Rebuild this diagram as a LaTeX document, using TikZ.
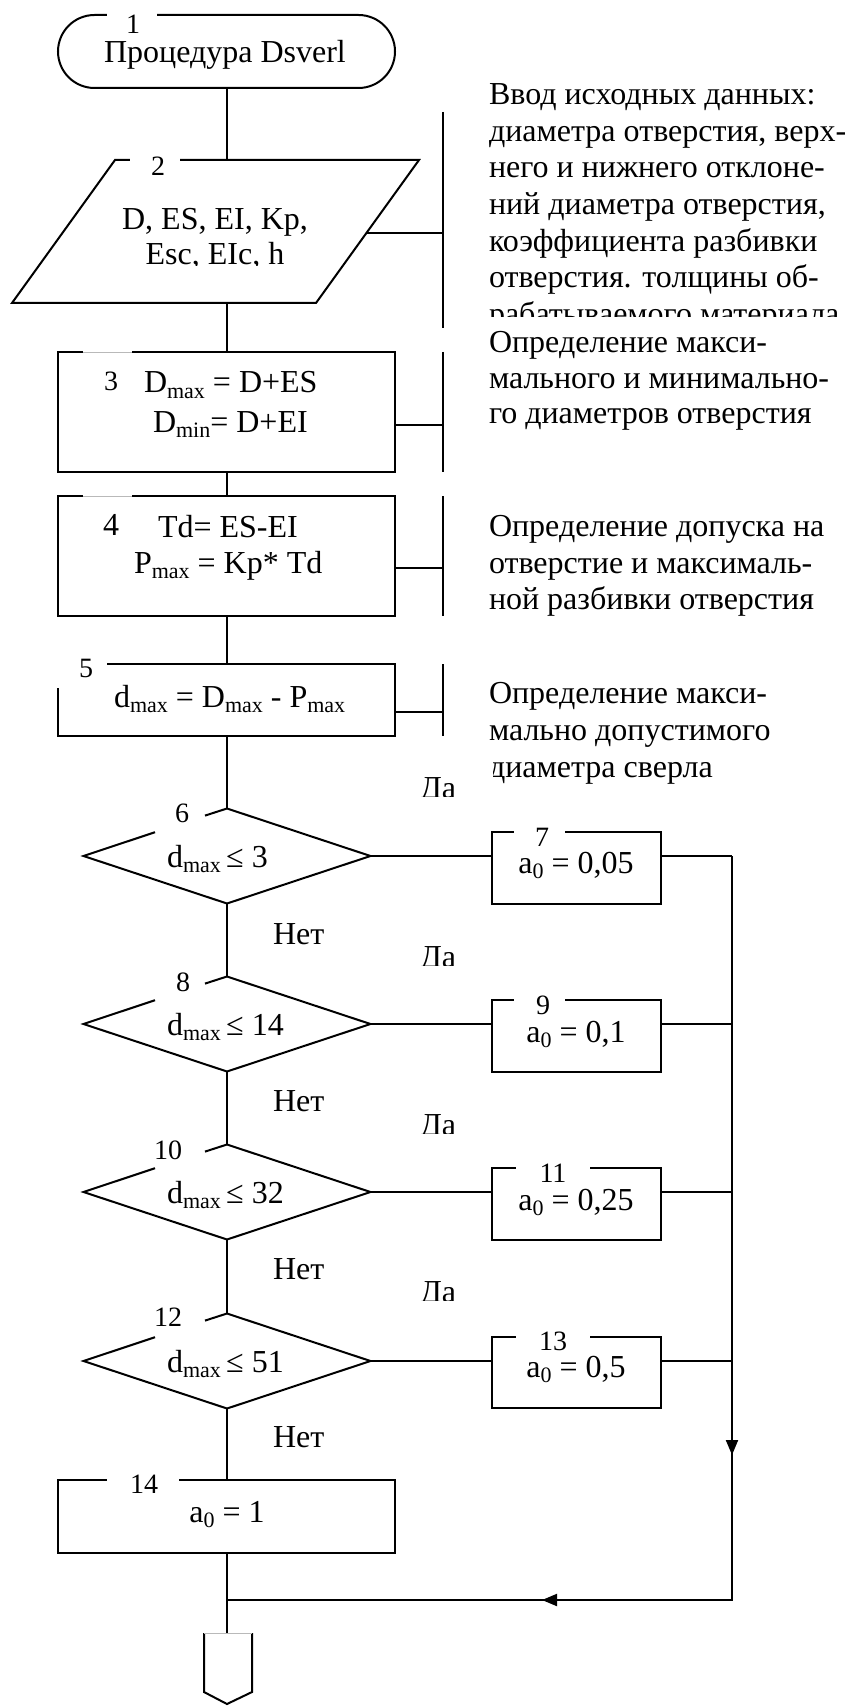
\documentclass[tikz,border=0pt]{standalone}
\usepackage{fontspec}
\setmainfont{Liberation Serif}
\usetikzlibrary{arrows.meta}
\newcommand{\lo}[1]{\raisebox{-0.18em}{\fontsize{11}{11}\selectfont #1}}
\begin{document}
\begin{tikzpicture}[x=0.5pt,y=-0.5pt,line width=1pt,line join=miter,
  txt/.style={inner sep=0pt,font=\fontsize{16}{18}\selectfont},
  lbl/.style={inner sep=0pt,font=\fontsize{14}{14}\selectfont},
  gapline/.style={white,line width=2.2pt},
  faint/.style={gray!55,line width=0.4pt},
  tip/.style={-{Triangle[length=7.5pt,width=6pt]}}]
\fill[white] (0,0) rectangle (849,1706);
\useasboundingbox (0,0) rectangle (849,1706);

% ---------- block 1: terminator
\draw[rounded corners=18.25pt] (58,15) rectangle (395,88);
\draw[gapline] (107,15) -- (157,15);
\node[lbl] (n1) at (133,24) {1};
\node[txt,anchor=base] (t1) at (225,63) {Процедура Dsverl};
\coordinate (t1b) at (227,88);

% ---------- block 2: parallelogram
\coordinate (p2tl) at (115,160);
\coordinate (p2tr) at (419,160);
\coordinate (p2br) at (316,303);
\coordinate (p2bl) at (12,303);
\coordinate (p2t) at (227,160);
\coordinate (p2b) at (227,303);
\coordinate (p2r) at (366.4,233);
\draw (p2tl) -- (p2tr) -- (p2br) -- (p2bl) -- cycle;
\draw[gapline] (130,160) -- (180,160);
\node[lbl] (n2) at (158,166) {2};
\node[txt,anchor=base] (t2a) at (215,230) {D, ES, EI, Kp,};
\begin{scope}
\clip (0,240) rectangle (400,265.6);
\node[txt,anchor=base] (t2b) at (215,265) {Esc, EIc, h};
\end{scope}

% ---------- block 3
\coordinate (b3t) at (227,352);
\coordinate (b3b) at (227,472);
\coordinate (b3r) at (395,425);
\draw (58,352) rectangle (395,472);
\draw[gapline,line width=1.2pt] (83,352) -- (132,352);
\draw[faint] (83,352) -- (132,352);
\node[lbl,anchor=base west] (n3) at (103,390) {3};
\node[txt,anchor=base west] (t3a) at (143,393) {D\lo{max} = D+ES};
\node[txt,anchor=base west] (t3b) at (152,432) {D\lo{min}= D+EI};

% ---------- block 4
\coordinate (b4t) at (227,496);
\coordinate (b4b) at (227,616);
\coordinate (b4r) at (395,568);
\draw (58,496) rectangle (395,616);
\draw[gapline,line width=1.2pt] (83,496) -- (132,496);
\draw[faint] (83,496) -- (132,496);
\node[txt,anchor=base west] (n4) at (102,535) {4};
\node[txt,anchor=base west] (t4a) at (157,537) {Td= ES-EI};
\node[txt,anchor=base west] (t4b) at (133,573) {P\lo{max} = Kp* Td};

% ---------- block 5
\coordinate (b5t) at (227,664);
\coordinate (b5b) at (227,736);
\coordinate (b5r) at (395,712);
\draw (58,688) -- (58,736) -- (395,736) -- (395,664) -- (107,664);
\node[lbl] (n5) at (86,668) {5};
\node[txt,anchor=base west] (t5) at (113,707) {d\lo{max} = D\lo{max} - P\lo{max}};

% ---------- main line, upper part
\draw (t1b) -- (p2t);
\draw (p2b) -- (b3t);
\draw (b3b) -- (b4t);
\draw (b4b) -- (b5t);

% ---------- comment brackets
\coordinate (k1t) at (443,112); \coordinate (k1b) at (443,328); \coordinate (k1m) at (443,233);
\coordinate (k2t) at (443,352); \coordinate (k2b) at (443,472); \coordinate (k2m) at (443,425);
\coordinate (k3t) at (443,496); \coordinate (k3b) at (443,616); \coordinate (k3m) at (443,568);
\coordinate (k4t) at (443,664); \coordinate (k4b) at (443,736); \coordinate (k4m) at (443,712);
\draw (k1t) -- (k1b); \draw (p2r) -- (k1m);
\draw (k2t) -- (k2b); \draw (b3r) -- (k2m);
\draw (k3t) -- (k3b); \draw (b4r) -- (k3m);
\draw (k4t) -- (k4b); \draw (b5r) -- (k4m);

% ---------- comment texts
\node[txt,anchor=base west] (c1a) at (488,105) {Ввод исходных данных:};
\node[txt,anchor=base west] (c1b) at (488,142) {диаметра отверстия, верх-};
\node[txt,anchor=base west] (c1c) at (488,178) {него и нижнего отклоне-};
\node[txt,anchor=base west] (c1d) at (488,215) {ний диаметра отверстия,};
\node[txt,anchor=base west] (c1e) at (488,252) {коэффициента разбивки};
\node[txt,anchor=base west] (c1f) at (488,288) {отверстия. толщины  об-};
\begin{scope}
\clip (470,295) rectangle (849,317);
\node[txt,anchor=base west] (c1g) at (488,325) {рабатываемого материала};
\end{scope}
\node[txt,anchor=base west] (c2a) at (488,352) {Определение макси-};
\node[txt,anchor=base west] (c2b) at (488,388) {мального и минимально-};
\node[txt,anchor=base west] (c2c) at (488,423) {го диаметров отверстия};
\node[txt,anchor=base west] (c3a) at (488,536) {Определение допуска на};
\node[txt,anchor=base west] (c3b) at (488,573) {отверстие и максималь-};
\node[txt,anchor=base west] (c3c) at (488,609) {ной разбивки отверстия};
\node[txt,anchor=base west] (c4a) at (488,703) {Определение макси-};
\node[txt,anchor=base west] (c4b) at (488,740) {мально допустимого};
\begin{scope}
\clip (493,750) rectangle (849,790);
\node[txt,anchor=base west] (c4c) at (488,777) {диаметра сверла};
\end{scope}

% ---------- decisions
% 6
\coordinate (d6t) at (227,808.5); \coordinate (d6r) at (370.5,856);
\coordinate (d6b) at (227,903.5); \coordinate (d6l) at (83.5,856);
\draw (205,815.6) -- (d6t) -- (d6r) -- (d6b) -- (d6l) -- (155,832.2);
\node[lbl] (n6) at (182,813) {6};
\node[txt,anchor=base west] (t6) at (166,867) {d\lo{max}\,≤ 3};
% 8
\coordinate (d8t) at (227,976.5); \coordinate (d8r) at (370.5,1024);
\coordinate (d8b) at (227,1071.5); \coordinate (d8l) at (83.5,1024);
\draw (205,983.6) -- (d8t) -- (d8r) -- (d8b) -- (d8l) -- (155,1000.2);
\node[lbl] (n8) at (183,982) {8};
\node[txt,anchor=base west] (t8) at (166,1035) {d\lo{max}\,≤ 14};
% 10
\coordinate (d10t) at (227,1144.5); \coordinate (d10r) at (370.5,1192);
\coordinate (d10b) at (227,1239.5); \coordinate (d10l) at (83.5,1192);
\draw (205,1151.6) -- (d10t) -- (d10r) -- (d10b) -- (d10l) -- (155,1168.2);
\node[lbl] (n10) at (168,1150) {10};
\node[txt,anchor=base west] (t10) at (166,1203) {d\lo{max}\,≤ 32};
% 12
\coordinate (d12t) at (227,1313.5); \coordinate (d12r) at (370.5,1361);
\coordinate (d12b) at (227,1408.5); \coordinate (d12l) at (83.5,1361);
\draw (205,1320.6) -- (d12t) -- (d12r) -- (d12b) -- (d12l) -- (155,1337.2);
\node[lbl] (n12) at (168,1317) {12};
\node[txt,anchor=base west] (t12) at (166,1372) {d\lo{max}\,≤ 51};

% ---------- assignment boxes
\coordinate (b7l) at (492,856); \coordinate (b7r) at (661,856);
\draw (565,832) -- (661,832) -- (661,904) -- (492,904) -- (492,832) -- (514,832);
\node[lbl] (n7) at (542,837) {7};
\node[txt,anchor=base] (t7) at (576,873) {a\lo{0} = 0,05};

\coordinate (b9l) at (492,1024); \coordinate (b9r) at (661,1024);
\draw (565,1000) -- (661,1000) -- (661,1072) -- (492,1072) -- (492,1000) -- (514,1000);
\node[lbl] (n9) at (543,1005) {9};
\node[txt,anchor=base] (t9) at (576,1042) {a\lo{0} = 0,1};

\coordinate (b11l) at (492,1192); \coordinate (b11r) at (661,1192);
\draw (590,1168) -- (661,1168) -- (661,1240) -- (492,1240) -- (492,1168) -- (516,1168);
\node[lbl] (n11) at (553,1173) {11};
\node[txt,anchor=base] (t11) at (576,1210) {a\lo{0} = 0,25};

\coordinate (b13l) at (492,1361); \coordinate (b13r) at (661,1361);
\draw (590,1337) -- (661,1337) -- (661,1408) -- (492,1408) -- (492,1337) -- (516,1337);
\node[lbl] (n13) at (553,1341) {13};
\node[txt,anchor=base] (t13) at (576,1377) {a\lo{0} = 0,5};

% ---------- block 14
\coordinate (b14t) at (227,1480); \coordinate (b14b) at (227,1553);
\draw (179,1480) -- (395,1480) -- (395,1553) -- (58,1553) -- (58,1480) -- (107,1480);
\node[lbl] (n14) at (144,1484) {14};
\node[txt,anchor=base] (t14) at (227,1522) {a\lo{0} = 1};

% ---------- main line, lower part
\draw (b5b) -- (d6t);
\draw (d6b) -- (d8t);
\draw (d8b) -- (d10t);
\draw (d10b) -- (d12t);
\draw (d12b) -- (b14t);

% ---------- yes branches
\draw (d6r) -- (b7l);
\draw (d8r) -- (b9l);
\draw (d10r) -- (b11l);
\draw (d12r) -- (b13l);

% ---------- collecting line
\coordinate (r7) at (732,856);
\coordinate (r9) at (732,1024);
\coordinate (r11) at (732,1192);
\coordinate (r13) at (732,1361);
\coordinate (rc) at (732,1600);
\coordinate (jn) at (227,1600);
\coordinate (ad1) at (732,1425); \coordinate (ad2) at (732,1455);
\coordinate (al1) at (585,1600); \coordinate (al2) at (542,1600);
\draw (b7r) -- (r7);
\draw (b9r) -- (r9);
\draw (b11r) -- (r11);
\draw (b13r) -- (r13);
\draw (r7) -- (rc) -- (jn);
\draw[tip] (ad1) -- (ad2);
\draw[tip] (al1) -- (al2);

% ---------- off-page connector
\coordinate (opt) at (227,1633);
\draw (b14b) -- (opt);
\draw (204,1633) -- (204,1692) -- (227,1704) -- (252,1692) -- (252,1633);
\draw[faint] (204,1633) -- (252,1633);

% ---------- branch labels
\begin{scope}
\clip (410,770) rectangle (470,796.5);
\node[txt,anchor=base west] (y6) at (419,798) {Да};
\end{scope}
\begin{scope}
\clip (410,939) rectangle (470,965.5);
\node[txt,anchor=base west] (y8) at (419,967) {Да};
\end{scope}
\begin{scope}
\clip (410,1107) rectangle (470,1133.5);
\node[txt,anchor=base west] (y10) at (419,1135) {Да};
\end{scope}
\begin{scope}
\clip (410,1274) rectangle (470,1300.5);
\node[txt,anchor=base west] (y12) at (419,1302) {Да};
\end{scope}
\node[txt,anchor=base west] (no6) at (272,944) {Нет};
\node[txt,anchor=base west] (no8) at (272,1111) {Нет};
\node[txt,anchor=base west] (no10) at (272,1279) {Нет};
\node[txt,anchor=base west] (no12) at (272,1447) {Нет};
\end{tikzpicture}
\end{document}
